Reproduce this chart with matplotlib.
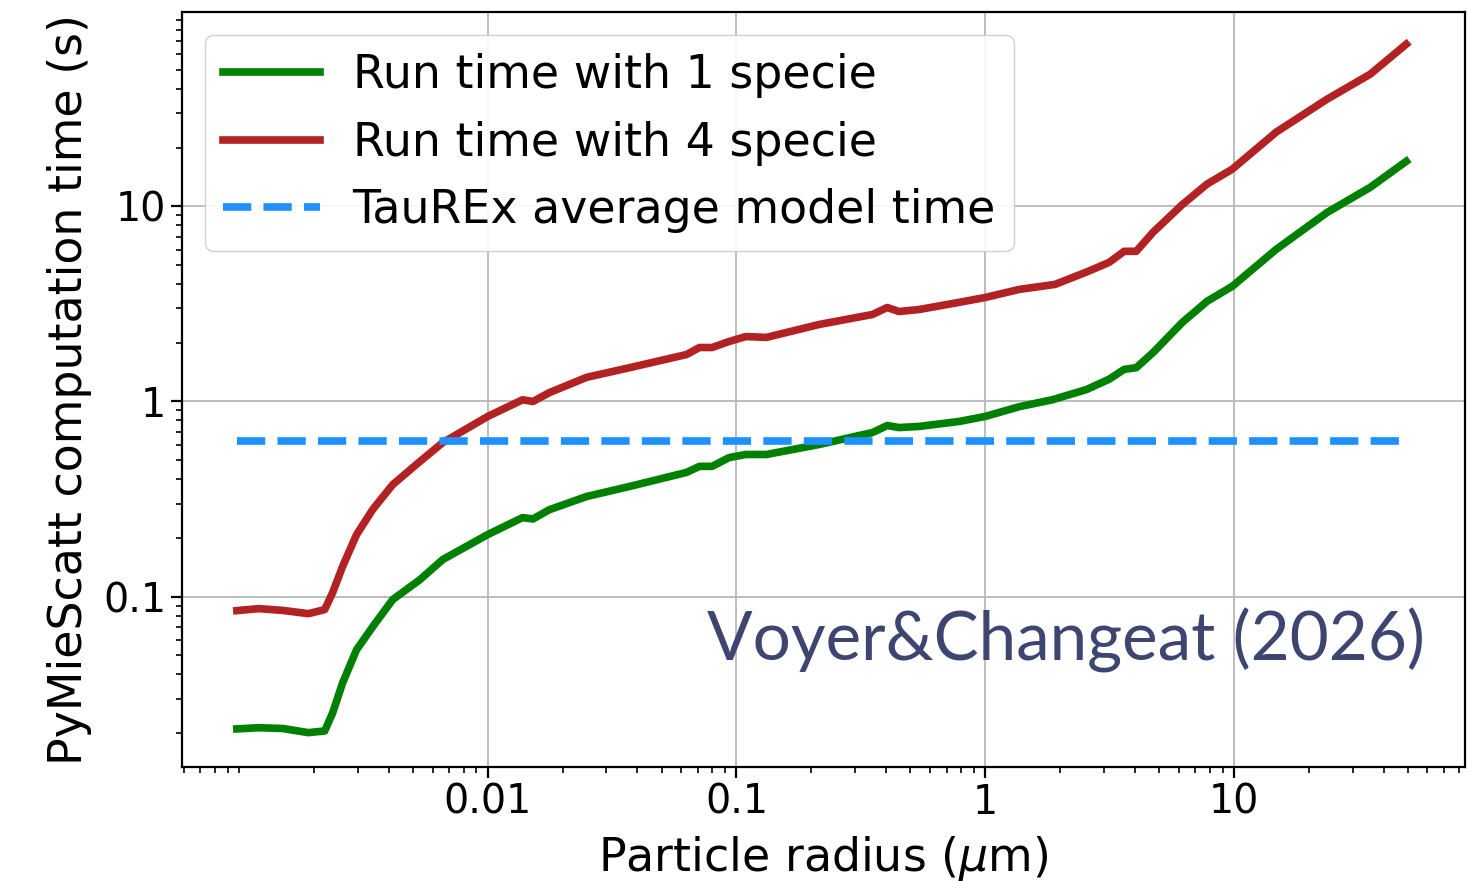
import numpy as np
import matplotlib
matplotlib.use("Agg")
import matplotlib.pyplot as plt
from matplotlib.ticker import FixedLocator, LogLocator, NullFormatter

# particle radius (um) and run times (s)
radius_1 = [0.00098, 0.0012, 0.0015, 0.0019, 0.00221, 0.00238, 0.00261, 0.00297,
            0.00345, 0.00415, 0.00533, 0.0066, 0.01, 0.0138, 0.0152, 0.0177,
            0.025, 0.0372, 0.063, 0.071, 0.0798, 0.0935, 0.109, 0.132, 0.215,
            0.352, 0.404, 0.45, 0.543, 0.786, 1.0, 1.37, 1.86, 2.55, 3.15, 3.62,
            4.05, 4.73, 6.2, 7.8, 9.85, 14.8, 23.7, 35.3, 49.3]
time_1 = [0.021, 0.0213, 0.0211, 0.0201, 0.0205, 0.0254, 0.0362, 0.0535,
          0.0702, 0.0966, 0.122, 0.155, 0.208, 0.254, 0.25, 0.279,
          0.326, 0.367, 0.433, 0.465, 0.465, 0.516, 0.535, 0.535, 0.602,
          0.693, 0.753, 0.735, 0.745, 0.79, 0.838, 0.94, 1.02, 1.15, 1.3, 1.46,
          1.49, 1.78, 2.54, 3.26, 3.89, 6.02, 9.3, 12.5, 17.0]

radius_4 = [0.00098, 0.0012, 0.0015, 0.0019, 0.00221, 0.00238, 0.00261, 0.00297,
            0.00345, 0.00415, 0.00533, 0.0066, 0.01, 0.0138, 0.0152, 0.0177,
            0.025, 0.0372, 0.063, 0.071, 0.0798, 0.0935, 0.109, 0.132, 0.215,
            0.352, 0.404, 0.45, 0.543, 0.786, 1.0, 1.37, 1.91, 2.55, 3.15, 3.62,
            4.05, 4.73, 6.2, 7.8, 9.85, 14.8, 23.7, 35.3, 49.3]
time_4 = [0.0848, 0.0868, 0.085, 0.0818, 0.0858, 0.105, 0.143, 0.208,
          0.28, 0.375, 0.492, 0.616, 0.838, 1.02, 1.0, 1.11,
          1.33, 1.49, 1.74, 1.89, 1.89, 2.03, 2.15, 2.13, 2.48,
          2.79, 3.03, 2.89, 2.96, 3.22, 3.41, 3.75, 3.98, 4.6, 5.16, 5.88,
          5.88, 7.36, 10.2, 13.0, 15.5, 24.0, 35.4, 47.5, 67.7]

taurex_time = 0.63
taurex_span = [0.00098, 49.3]

xticks = [0.01, 0.1, 1, 10]
xticklabels = ["0.01", "0.1", "1", "10"]
yticks = [0.1, 1, 10]
yticklabels = ["0.1", "1", "10"]

fig = plt.figure(figsize=(14.68, 8.81), dpi=100)
ax = fig.add_axes([0.124, 0.1294, 0.874, 0.857])

ax.plot(radius_1, time_1, color="green", lw=5.5, label="Run time with 1 specie")
ax.plot(radius_4, time_4, color="firebrick", lw=5.5, label="Run time with 4 specie")
ax.plot(taurex_span, [taurex_time, taurex_time], color="dodgerblue", lw=5.5,
        ls="--", label="TauREx average model time")

ax.set_xscale("log")
ax.set_yscale("log")
ax.set_xlim(0.00059, 85)
ax.set_ylim(0.0134, 99)

ax.xaxis.set_major_locator(FixedLocator(xticks))
ax.set_xticklabels(xticklabels)
ax.yaxis.set_major_locator(FixedLocator(yticks))
ax.set_yticklabels(yticklabels)
ax.xaxis.set_minor_locator(LogLocator(base=10, subs=np.arange(1, 10), numticks=50))
ax.yaxis.set_minor_locator(LogLocator(base=10, subs=np.arange(1, 10), numticks=50))
ax.xaxis.set_minor_formatter(NullFormatter())
ax.yaxis.set_minor_formatter(NullFormatter())

ax.tick_params(which="major", labelsize=28.5, length=8, width=1.6)
ax.tick_params(which="minor", length=4.5, width=1.2)
for s in ax.spines.values():
    s.set_linewidth(1.6)

ax.grid(True, which="major", color="#b8b8b8", lw=1.3)

ax.set_xlabel("Particle radius ($\\mu$m)", fontsize=33, labelpad=8)
ax.set_ylabel("PyMieScatt computation time (s)", fontsize=33, labelpad=8)

ax.legend(loc="upper left", fontsize=33, handlelength=2.1, borderpad=0.4,
          labelspacing=0.49, handletextpad=0.72, framealpha=0.9)

ax.text(0.689, 0.168, "Voyer&Changeat (2026)", transform=ax.transAxes,
        ha="center", va="center", fontsize=48.5, color="#3d4570",
        family=["Lato", "DejaVu Sans"])

fig.savefig("out.png", dpi=100)
